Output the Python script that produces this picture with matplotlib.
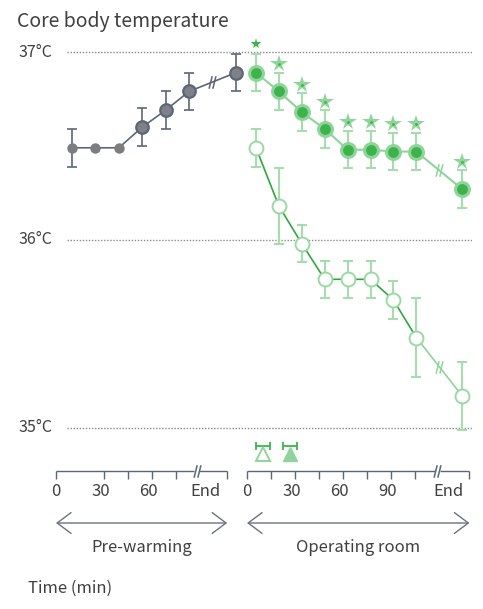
import matplotlib
matplotlib.use('Agg')
import matplotlib.pyplot as plt
from matplotlib.path import Path

plt.rcParams['font.family'] = ['Noto Sans CJK KR', 'DejaVu Sans']
plt.rcParams['font.weight'] = 'light'

# ---------------- data ----------------
title = 'Core body temperature'
y_ticks = [35, 36, 37]
y_tick_labels = ['35°C', '36°C', '37°C']

# pre-warming phase (measurement slots; last one is "End" after the break)
pre_slot = [0, 1, 2, 3, 4, 5, 7]
pre_temp = [36.49, 36.49, 36.49, 36.60, 36.69, 36.79, 36.89]
pre_err = [0.10, 0.0, 0.0, 0.10, 0.10, 0.10, 0.10]
pre_n_baseline = 3

# operating room phase
op_slot = [0, 1, 2, 3, 4, 5, 6, 7, 9]
warm_temp = [36.89, 36.79, 36.68, 36.59, 36.48, 36.48, 36.47, 36.47, 36.27]
warm_err = [0.10, 0.10, 0.10, 0.10, 0.10, 0.10, 0.10, 0.10, 0.10]
ctrl_temp = [36.49, 36.18, 35.98, 35.79, 35.79, 35.79, 35.68, 35.48, 35.17]
ctrl_err = [0.10, 0.20, 0.10, 0.10, 0.10, 0.10, 0.10, 0.21, 0.18]
sig_kind = ['small', 'large', 'large', 'large', 'large', 'large', 'large', 'large', 'large']

# time axes (min)
pre_ticks = [0, 30, 45, 60, 75, 107]
pre_labels = ['0', '30', '60']
pre_label_vals = [0, 30, 60]
pre_break = 88
pre_end = 107
op_ticks = [0, 15, 30, 45, 60, 75, 90, 105, 139]
op_labels = ['0', '30', '60', '90']
op_label_vals = [0, 30, 60, 90]
op_break = 119
op_end = 139
end_label = 'End'

# time markers (mean, sd in min)
ctrl_time, ctrl_time_sd = 10, 4.4
warm_time, warm_time_sd = 27, 4.4

# ---------------- style ----------------
W, H = 483, 609
TXT = '#404040'
GRAY_LINE = '#5b6677'
GRAY_PT = '#7d7d80'
G_DARK = '#3cb44b'
G_LIGHT = '#8fd49a'
G_BAR = '#a6ddae'
G_LINE = '#2ea83e'

fig = plt.figure(figsize=(W / 100, H / 100), dpi=100)


def rect(x0, y0, x1, y1):
    return [x0 / W, 1 - y1 / H, (x1 - x0) / W, (y1 - y0) / H]


YLIM = (34.9345, 37.0905)

axg = fig.add_axes(rect(67, 35, 472, 440))
axg.set_ylim(*YLIM)
axg.set_xlim(0, 1)
axg.axis('off')
for t, lab in zip(y_ticks, y_tick_labels):
    axg.axhline(t, color='#8a8a8a', lw=1.0, ls=(0, (1, 1.2)), zorder=0)
    axg.text(-0.037, t, lab, ha='right', va='center', fontsize=11.5, color=TXT)

fig.text(17 / W, 1 - 22 / H, title, ha='left', va='center', fontsize=14, color=TXT)

slash = Path([(-0.55, -1), (-0.05, 1), (0.05, -1), (0.55, 1)],
             [Path.MOVETO, Path.LINETO, Path.MOVETO, Path.LINETO])

# ---- pre-warming panel ----
ax1 = fig.add_axes(rect(67, 35, 245, 440))
ax1.set_ylim(*YLIM)
ax1.set_xlim(-0.214, 7.393)
ax1.axis('off')
ax1.plot(pre_slot, pre_temp, color=GRAY_LINE, lw=1.2, zorder=2)
for i, (x, y, e) in enumerate(zip(pre_slot, pre_temp, pre_err)):
    if e > 0:
        ax1.errorbar([x], [y], yerr=[e], fmt='none', ecolor=GRAY_LINE,
                     elinewidth=1.2, capsize=3.5, capthick=1.2, zorder=3)
    if i < pre_n_baseline:
        ax1.plot([x], [y], 'o', ms=7.5, mfc=GRAY_PT, mec=GRAY_PT, mew=0, zorder=4)
    else:
        ax1.plot([x], [y], 'o', ms=9, mfc='#808186', mec=GRAY_LINE, mew=1.6, zorder=4)
ax1.plot([(pre_slot[-2] + pre_slot[-1]) / 2], [(pre_temp[-2] + pre_temp[-1]) / 2],
         marker=slash, ms=9, mec=GRAY_LINE, mew=1.1, ls='none', zorder=5)

# ---- operating room panel ----
ax2 = fig.add_axes(rect(245, 35, 472, 440))
ax2.set_ylim(*YLIM)
ax2.set_xlim(-0.480, 9.432)
ax2.axis('off')

# control (open) series
ax2.plot(op_slot[:-1], ctrl_temp[:-1], color=G_LINE, lw=1.2, zorder=2)
ax2.plot(op_slot[-2:], ctrl_temp[-2:], color=G_LIGHT, lw=1.2, zorder=2)
ax2.errorbar(op_slot, ctrl_temp, yerr=ctrl_err, fmt='none', ecolor=G_BAR,
             elinewidth=1.5, capsize=3.5, capthick=1.5, zorder=3)
ax2.plot(op_slot, ctrl_temp, 'o', ms=10, mfc='white', mec='#9ad9a4', mew=1.4, ls='none', zorder=4)
ax2.plot([(op_slot[-2] + op_slot[-1]) / 2], [(ctrl_temp[-2] + ctrl_temp[-1]) / 2],
         marker=slash, ms=9, mec=G_LIGHT, mew=1.1, ls='none', zorder=5)

# warmed (filled) series
ax2.plot(op_slot, warm_temp, color=G_LIGHT, lw=1.5, zorder=2)
ax2.errorbar(op_slot, warm_temp, yerr=warm_err, fmt='none', ecolor=G_BAR,
             elinewidth=1.5, capsize=3.5, capthick=1.5, zorder=3)
ax2.plot(op_slot, warm_temp, 'o', ms=10, mfc=G_DARK, mec=G_LIGHT, mew=2.2, ls='none', zorder=4)
ax2.plot([(op_slot[-2] + op_slot[-1]) / 2], [(warm_temp[-2] + warm_temp[-1]) / 2],
         marker=slash, ms=9, mec=G_LIGHT, mew=1.1, ls='none', zorder=5)

for x, y, e, k in zip(op_slot, warm_temp, warm_err, sig_kind):
    ys = y + e + 0.046
    if k == 'small':
        ax2.plot([x], [ys + 0.004], '*', ms=8, mfc=G_DARK, mec=G_DARK, mew=0,
                 clip_on=False, zorder=5)
    else:
        ax2.plot([x], [ys], '*', ms=13, mfc=G_LIGHT, mec=G_LIGHT, mew=0,
                 clip_on=False, zorder=5)
        ax2.plot([x], [ys], 'o', ms=2, mfc=G_DARK, mec=G_DARK, mew=0,
                 clip_on=False, zorder=6)

# ---- time axes ----
def time_axis(r, xlim, ticks, labels, label_vals, brk, end):
    ax = fig.add_axes(rect(*r))
    ax.set_xlim(*xlim)
    ax.set_ylim(0, 1)
    for s in ax.spines.values():
        s.set_visible(False)
    ax.set_yticks([])
    ax.set_xticks(ticks)
    ax.tick_params(axis='x', direction='out', length=6, width=1, color=GRAY_LINE,
                   labelbottom=False)
    gap = 1.6
    ax.plot([0, brk - gap], [0, 0], color=GRAY_LINE, lw=1, clip_on=False,
            solid_capstyle='butt')
    ax.plot([brk + gap, end], [0, 0], color=GRAY_LINE, lw=1, clip_on=False,
            solid_capstyle='butt')
    ax.plot([brk], [0], marker=slash, ms=9, mec=GRAY_LINE, mew=1.1, ls='none',
            clip_on=False)
    for lab, v in zip(labels, label_vals):
        ax.annotate(lab, xy=(v, 0), xycoords=('data', 'axes fraction'),
                    xytext=(-2.5 if v else 0, -18), textcoords='offset points',
                    ha='center', va='baseline', fontsize=12, color=TXT)
    ax.annotate(end_label, xy=(end, 0), xycoords=('data', 'axes fraction'),
                xytext=(-4.5, -18), textcoords='offset points', ha='right',
                va='baseline', fontsize=12, color=TXT)
    ax.annotate('', xy=(0, 1 - 523 / H), xytext=(end, 1 - 523 / H),
                xycoords=('data', 'figure fraction'),
                textcoords=('data', 'figure fraction'),
                arrowprops=dict(arrowstyle='<->,head_length=1.0,head_width=0.75',
                                color='#6b7380', lw=1, shrinkA=0, shrinkB=0))
    return ax


axb1 = time_axis((40, 436, 240, 471), (-10, 115), pre_ticks, pre_labels,
                 pre_label_vals, pre_break, pre_end)
axb2 = time_axis((240, 436, 480, 471), (-4.375, 145.6), op_ticks, op_labels,
                 op_label_vals, op_break, op_end)

axb1.annotate('Pre-warming', xy=(pre_end / 2, 1 - 548 / H),
              xycoords=('data', 'figure fraction'), ha='center', va='center',
              fontsize=12, color=TXT)
axb2.annotate('Operating room', xy=(op_end / 2, 1 - 548 / H),
              xycoords=('data', 'figure fraction'), ha='center', va='center',
              fontsize=12, color=TXT)

# triangles (time markers)
ty, ey = 0.50, 0.71
axb2.errorbar([ctrl_time, warm_time], [ey, ey], xerr=[ctrl_time_sd, warm_time_sd],
              fmt='none', ecolor=G_DARK, elinewidth=1.3, capsize=3, capthick=1.3)
axb2.plot([ctrl_time], [ty], '^', ms=10, mfc='white', mec=G_LIGHT, mew=1.4)
axb2.plot([warm_time], [ty], '^', ms=10, mfc=G_LIGHT, mec=G_LIGHT, mew=1.0)

fig.text(28 / W, 1 - 588 / H, 'Time (min)', ha='left', va='center', fontsize=12, color=TXT)

fig.savefig('out.png', dpi=100)
